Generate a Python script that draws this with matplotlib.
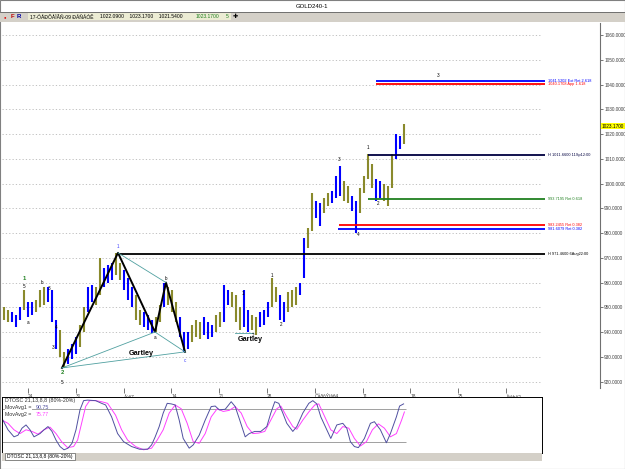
import matplotlib
matplotlib.use("Agg")
import matplotlib.pyplot as plt
from matplotlib.patches import Rectangle

plt.rcParams['font.family'] = ['Liberation Sans', 'DejaVu Sans']

W, H = 625, 469


def fx(px):
    return px / W


def fy(py):
    return 1 - py / H


# 4h bars (every second bar), high / low, 1 = blue leg, 0 = olive leg
hi = [950, 949, 948, 947, 950, 957, 952, 952, 953, 957,
      958, 958, 957, 945, 941, 932, 933, 935, 938, 943,
      950, 958, 959, 958, 970, 966, 967, 968, 972, 968,
      965, 962, 958, 955, 949, 948, 947, 945, 946, 951,
      960, 958, 957, 952, 946, 940, 940, 943, 945, 944,
      946, 944, 943, 947, 948, 959, 957, 956, 955, 950,
      957, 949, 947, 946, 948, 949, 952, 962, 958, 955,
      952, 956, 957, 958, 960, 978, 982, 996, 993, 992,
      994, 996, 997, 1003, 1007, 1001, 999, 995, 993, 998,
      1003, 1012, 1008, 1002, 1001, 1000, 999, 1012, 1020, 1019,
      1024]
lo = [945, 944, 944, 942, 945, 949, 946, 947, 948, 950,
      951, 952, 944, 933, 930, 925.5, 927, 929, 931, 934,
      940, 948, 952, 951, 955, 958, 960, 961, 963, 961,
      957, 953, 950, 945, 943, 942, 941, 939.5, 940, 944,
      950, 951, 948, 944, 938, 932, 933, 936, 938, 937,
      939, 937, 938, 940, 942, 944, 951, 950, 944, 941,
      942, 940, 941, 939, 942, 943, 946, 950, 952, 945,
      944, 948, 950, 951, 955, 962, 974, 981, 986, 983,
      988, 991, 992, 994, 995, 993, 992, 989, 980, 988,
      996, 1002, 998, 993, 994, 993, 991, 998, 1010, 1014,
      1016]
trend = [0, 0, 1, 1, 1, 0, 1, 1, 0, 0,
         0, 1, 1, 1, 0, 0, 1, 1, 1, 0,
         0, 1, 1, 0, 0, 1, 1, 1, 0, 0,
         1, 1, 1, 0, 0, 1, 1, 1, 0, 0,
         1, 0, 0, 0, 1, 1, 1, 0, 0, 0,
         1, 1, 1, 0, 0, 1, 1, 0, 0, 0,
         1, 1, 0, 0, 1, 1, 1, 0, 0, 1,
         1, 0, 0, 0, 1, 1, 0, 0, 1, 1,
         0, 0, 1, 1, 1, 0, 0, 1, 1, 0,
         0, 0, 0, 1, 1, 0, 0, 0, 1, 1,
         0]
last_price = 1023.17

# weekly date axis
week_pos = [6.0, 17.95, 29.9, 41.85, 53.8, 65.75, 77.7, 89.65, 101.6, 113.55, 125.5]
week_lbl = ["24", "31", "Áýã7", "14", "21", "28", "ÓåðôÝìâñ4", "11", "18", "25", "Ïêôþâ2"]

# Gartley pattern X-A-B-C-D
gart_x = [14.5, 28.5, 37.75, 40.5, 45.25]
gart_y = [925.5, 972.0, 940.0, 960.0, 932.0]
gart2_x = [57.75, 62.25]
gart2_y = [939.6, 939.6]

# fibonacci / high levels: price, start bar, colour, label
fib_price = [1041.5202, 1040.1708, 1011.66, 993.7195, 983.2455, 981.6079, 971.46]
fib_start = [93, 93, 91, 91, 83.75, 83.5, 28.5]
fib_color = ["#0000ff", "#ff0000", "#000040", "#208020", "#ff0000", "#0000ff", "#000000"]
fib_text = ["1041.5202 Ext Ret 2.618", "1040.1708 App 1.618", "H 1011.6600 11Sp12:00",
            "993.7195 Ret 0.618", "983.2455 Ret 0.382", "981.6079 Ret 0.382",
            "H 971.4600 6Aug22:00"]

# wave counts
wave_x = [5, 5, 6, 9.5, 11.25, 13, 12.25, 14.5, 14.5, 28.5, 37.75, 40.5, 45.25,
          59.75, 62.25, 67, 69.25, 83.75, 88.5, 91, 93.5, 108.5]
wave_y = [961.5, 958.3, 944, 960, 957.4, 942, 933.6, 923.6, 919.8, 974.6, 937.8, 961.8, 928.5,
          955.6, 938.8, 962.8, 943.2, 1009.8, 979.5, 1014.4, 992.0, 1043.8]
wave_txt = ["1", "5", "a", "b", "3", "4", "3", "2", "5", "1", "a", "b", "c",
            "1", "2", "1", "2", "3", "4", "1", "2", "3"]
wave_col = ["#208020", "k", "k", "k", "k", "k", "k", "#208020", "k", "#4040ff", "k", "k", "#4040ff",
            "k", "k", "k", "k", "k", "k", "k", "k", "k"]

# DTOSC 21,13,8,8
osc1_x = [-0.5, 1.0, 2.5, 3.5, 4.5, 5.5, 6.5, 7.5, 9.0, 10.0, 11.0, 12.0, 13.0, 14.0, 15.0,
          16.0, 17.0, 18.0, 19.0, 19.9, 20.9, 22.9, 24.4, 25.4, 26.9, 28.4, 29.9, 31.9, 33.9,
          35.9, 36.9, 37.8, 38.8, 39.8, 40.8, 41.8, 42.8, 43.8, 44.8, 46.3, 47.3, 48.8, 50.3,
          51.8, 52.8, 53.8, 55.3, 56.8, 57.8, 58.8, 60.3, 61.3, 62.7, 64.2, 65.7, 66.7, 67.7,
          68.7, 69.7, 70.7, 72.2, 73.2, 74.7, 76.2, 77.2, 78.2, 79.2, 80.7, 81.7, 83.2, 84.7,
          85.7, 86.6, 87.6, 88.6, 90.1, 91.6, 92.6, 94.1, 95.6, 96.6, 98.1, 98.9, 99.9]
osc1_v = [63, 42, 29, 32, 45, 51, 42, 29, 35, 42, 48, 39, 23, 11, 5,
          8, 17, 42, 79, 96, 97, 96, 91, 88, 66, 35, 20, 11, 6,
          6, 14, 29, 48, 73, 91, 90, 88, 60, 26, 8, 14, 32, 60,
          85, 86, 79, 80, 94, 85, 63, 29, 35, 39, 39, 48, 73, 94,
          91, 73, 54, 39, 48, 73, 91, 96, 90, 66, 42, 26, 51, 54,
          45, 20, 11, 9, 26, 54, 57, 42, 18, 35, 66, 86, 90]
osc2_x = [-0.5, 1.0, 2.5, 4.0, 5.5, 7.0, 8.5, 10.0, 11.5, 13.0, 14.4, 15.9, 17.4, 18.4,
          19.4, 20.4, 21.4, 22.9, 24.4, 25.9, 27.9, 29.4, 30.9, 32.9, 34.9, 36.9, 38.3,
          39.8, 41.3, 42.8, 44.3, 45.8, 47.3, 48.8, 50.3, 51.8, 53.3, 54.8, 56.3, 57.8,
          59.3, 60.8, 62.2, 63.7, 65.2, 66.7, 68.2, 69.2, 70.7, 72.2, 73.2, 74.7, 76.2,
          77.7, 78.7, 80.2, 81.7, 83.2, 84.7, 86.2, 87.6, 89.1, 90.6, 92.1, 93.6, 95.1,
          96.6, 98.1, 99.4, 100.1]
osc2_v = [60, 54, 42, 35, 42, 39, 34, 42, 47, 35, 20, 9, 11, 23,
          54, 85, 96, 96, 94, 91, 69, 42, 23, 11, 5, 8, 23,
          42, 73, 88, 81, 54, 20, 17, 35, 66, 81, 76, 78, 85,
          73, 48, 35, 36, 39, 60, 81, 86, 66, 48, 43, 60, 75,
          88, 90, 66, 42, 35, 48, 45, 26, 12, 20, 42, 53, 45,
          29, 35, 60, 75]

fig = plt.figure(figsize=(6.25, 4.69), dpi=100)
fig.patch.set_facecolor("white")


def frect(x0, y0, x1, y1, **kw):
    fig.add_artist(Rectangle((fx(x0), fy(y1)), (x1 - x0) / W, (y1 - y0) / H,
                             transform=fig.transFigure, **kw))


# window chrome
frect(0, 0, 624.5, 468.5, fill=False, ec="#808080", lw=0.8)
fig.text(fx(312), fy(6), "GOLD240-1", ha="center", va="center", fontsize=4.3)
frect(0, 12, 625, 22, fc="#d4d0c8", ec="none")
fig.add_artist(plt.Line2D([0, 1], [fy(12.5), fy(12.5)], transform=fig.transFigure,
                          color="#606060", lw=0.6))
frect(28, 13.5, 231, 20.5, fc="#ececd4", ec="none")
fig.text(fx(4), fy(17), "●", color="#e00000", fontsize=3, va="center")
fig.text(fx(11), fy(17), "F", color="#c00000", fontsize=4.3, va="center", weight="bold")
fig.text(fx(17), fy(17), "R", color="#0000a0", fontsize=4.3, va="center", weight="bold")
fig.text(fx(30), fy(17), "17-ÓÅÐÔÅÌÂÑ-09 ÐÁÑÁÓÊ", fontsize=3.6, va="center")
fig.text(fx(100), fy(17), "1022.0900    1023.1700    1021.5400", fontsize=3.6, va="center")
fig.text(fx(196), fy(17), "1023.1700", fontsize=3.6, va="center", color="#208020")
fig.text(fx(226), fy(17), "5", fontsize=3.6, va="center", color="#208020")
fig.text(fx(233), fy(17), "✚", fontsize=4.5, va="center", family="DejaVu Sans")

# price panel
ax = fig.add_axes([fx(2), fy(388), 598 / W, 365 / H])
ax.set_xlim(-0.5, 149)
ax.set_ylim(917.4, 1064.85)
for s in ["left", "top", "bottom"]:
    ax.spines[s].set_visible(False)
ax.spines["right"].set_color("#707070")
ax.spines["right"].set_linewidth(0.8)

grid_levels = list(range(920, 1061, 10))
ax.hlines(grid_levels, -0.5, 134, colors="#b8b8b8", lw=0.6, linestyles=(0, (1.5, 2.5)))

xs = list(range(len(hi)))
bar_cols = ["#0000ff" if t else "#8a8a2c" for t in trend]
ax.vlines(xs, lo, hi, colors=bar_cols, lw=1.5)

# fibonacci lines
for p, s, c, t in zip(fib_price, fib_start, fib_color, fib_text):
    ax.hlines(p, s, 135.25, colors=c, lw=1.3)
    ax.text(136, p, t, color=c, fontsize=2.8, va="center", clip_on=True)

# gartley
ax.plot(gart_x, gart_y, color="black", lw=1.4)
for a, b in [(0, 2), (0, 4), (1, 3), (2, 4)]:
    ax.plot([gart_x[a], gart_x[b]], [gart_y[a], gart_y[b]], color="#50a0a0", lw=0.6)
ax.plot(gart2_x, gart2_y, color="#50a0a0", lw=0.6)
ax.text(34.3, 931.4, "Gartley", fontsize=5.2, weight="bold", ha="center", va="center")
ax.text(61.5, 937.0, "Gartley", fontsize=5.2, weight="bold", ha="center", va="center")

for x, y, t, c in zip(wave_x, wave_y, wave_txt, wave_col):
    big = c == "#208020"
    ax.text(x, y, t, color=c, fontsize=4.2 if big else 3.3, ha="center", va="center",
            weight="bold" if big else "normal")

ax.yaxis.tick_right()
ax.set_yticks(grid_levels, labels=[f"{v:.4f}" for v in grid_levels])
ax.tick_params(axis="y", labelsize=3.4, length=2, width=0.5, pad=1, colors="#404040")
ax.set_xticks(week_pos, labels=week_lbl)
ax.tick_params(axis="x", labelsize=3.4, length=3.5, width=0.5, pad=1, colors="#404040")
for lbl in ax.get_xticklabels():
    lbl.set_ha("left")
ax.text(1.003, last_price, "1023.1700", transform=ax.get_yaxis_transform(), fontsize=3.4,
        va="center", clip_on=False,
        bbox=dict(boxstyle="square,pad=0.15", fc="#ffff00", ec="none"))

# oscillator panel
ax2 = fig.add_axes([fx(2), fy(452.7), 540 / W, 56 / H])
ax2.set_xlim(-0.5, 134.5)
ax2.set_ylim(-0.4, 103.3)
ax2.set_xticks([])
ax2.set_yticks([])
for s in ax2.spines.values():
    s.set_linewidth(0.7)
ax2.hlines([80, 20], -0.5, 100.5, colors="#a0a0a0", lw=0.7)
ax2.plot(osc2_x, osc2_v, color="#ff40ff", lw=0.7)
ax2.plot(osc1_x, osc1_v, color="#5050a0", lw=0.7)
ax2.text(0.006, 0.93, "DTOSC 21,13,8,8 (80%-20%)", transform=ax2.transAxes, fontsize=3.8,
         va="center", color="#303030",
         bbox=dict(boxstyle="square,pad=0.05", fc="white", ec="none"))
ax2.text(0.006, 0.80, "MovAvg1 =", transform=ax2.transAxes, fontsize=3.8, va="center",
         color="#303030", bbox=dict(boxstyle="square,pad=0.05", fc="white", ec="none"))
ax2.text(0.062, 0.80, "90.75", transform=ax2.transAxes, fontsize=3.8, va="center",
         color="#5050a0")
ax2.text(0.006, 0.68, "MovAvg2 =", transform=ax2.transAxes, fontsize=3.8, va="center",
         color="#303030")
ax2.text(0.062, 0.68, "75.77", transform=ax2.transAxes, fontsize=3.8, va="center",
         color="#ff40ff")

frect(2, 453, 542, 460.5, fc="#d4d0c8", ec="none")
frect(5, 453, 75, 460, fc="white", ec="#606060", lw=0.5)
fig.text(fx(7), fy(456.8), "DTOSC 21,13,8,8 (80%-20%)", fontsize=3.6, va="center")

fig.savefig("out.png", dpi=100)
